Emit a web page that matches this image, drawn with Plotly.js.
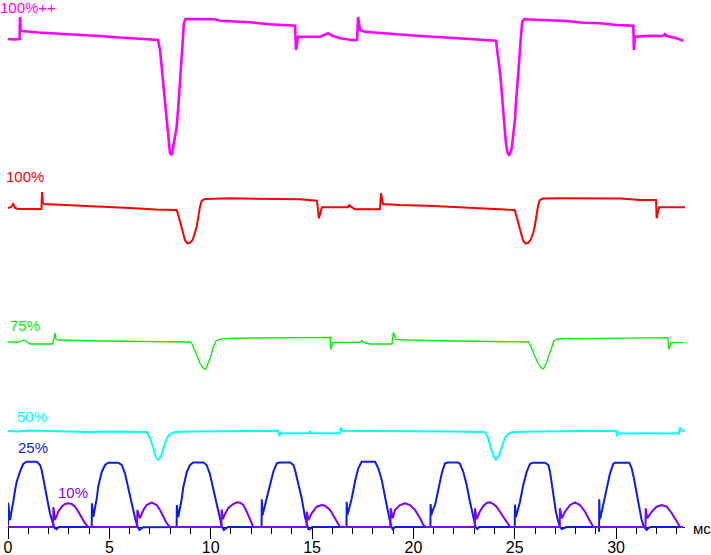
<!DOCTYPE html>
<html>
<head>
<meta charset="utf-8">
<script src="https://cdn.plot.ly/plotly-3.0.1.min.js"></script>
<style>html,body{margin:0;padding:0;background:#fff;}#chart{width:711px;height:555px;}</style>
</head>
<body>
<div id="chart"></div>
<script>
// time in ms, signal value in arbitrary units (each curve sits at its own level)
const seriesNames = ["100%++", "100%", "75%", "50%", "25%", "10%"];

const magentaT = [0,0.3,0.57,0.59,0.63,0.7,1.5,2.5,3.5,4.5,5.5,6.5,7.4,7.50,7.58,7.66,7.75,7.83,7.91,7.99,8.08,8.15,8.24,8.32,8.40,8.49,8.57,8.62,8.68,8.75,10.21,10.46,11.94,12.93,14.16,14.21,14.31,15.39,15.79,16.03,16.38,16.97,17.22,17.27,17.37,17.61,18.52,20.16,21.81,23.43,24.08,24.11,24.19,24.24,24.31,24.36,24.44,24.48,24.55,24.63,24.73,24.85,24.93,25.01,25.06,25.15,25.21,25.29,25.37,25.46,26.74,27.56,28.37,29.21,30.03,30.85,30.88,30.93,31.67,32.3,32.41,32.5,32.99,33.32];
const magentaV = [488,487.5,488,510,497,496,494.5,493.5,492,491,489.5,488.5,487,477,460,440,420,404,387,374,372,380,390,400,420,447,467,487,504,508,507.7,506.3,504.7,502.7,501.3,477,490.3,490.3,493.7,491,488.7,487,487,509.7,497,495.3,493.7,491.3,489.3,487,486.3,480.3,470.3,460.3,447,433.7,417,400.3,387,375.3,371.3,378.7,390.3,407,423.7,443.7,463.7,487,505.3,507.7,507,506,504.3,503.7,502,501.3,477,490.3,491.3,491,493,491,488.7,486.3];

const redT = [0,0.15,0.25,0.35,0.5,1.65,1.68,1.72,1.8,3,4.5,6,7.3,8.24,8.32,8.40,8.49,8.57,8.65,8.73,8.85,8.98,9.11,9.23,9.31,9.39,9.47,9.56,9.72,11,12.5,13.42,14.41,15.24,15.34,15.49,16.77,16.82,16.97,17.12,18.35,18.40,18.50,19.34,21,22.5,24,24.92,25.00,25.08,25.17,25.25,25.33,25.41,25.53,25.66,25.79,25.91,25.99,26.07,26.15,26.24,26.40,27.23,30.2,31.18,31.97,32.0,32.12,33.40];
const redV = [319,320,323,319,318,318,335,324,323,322,320.5,319,317.5,317,317,312,305.3,298.7,292,287,283.7,284.3,287,293.7,300.3,310.3,320.3,326.3,328,328.7,328.5,327.7,327.7,326.3,308.7,319.7,319.7,321.7,319.5,317.7,317.7,333.7,323,322,321,319.5,318,317,317,311,304,298,291,286.5,283.5,284,287.5,294,301,311,321,327,328.5,328.7,328.5,327,327,308.7,319.7,319.7];

const greenT = [0,0.5,0.8,0.95,1.1,2.2,2.32,2.36,2.5,4.5,7,9.0,9.06,9.14,9.31,9.47,9.64,9.75,9.88,10.0,10.13,10.26,10.46,10.79,12,14,15.9,15.92,16.03,17.37,17.45,17.61,17.86,18.94,19.01,19.14,19.83,22,24,25.7,25.73,25.81,25.98,26.14,26.31,26.42,26.55,26.67,26.80,26.93,27.13,27.46,28,30,32.55,32.61,32.71,33.3];
const greenV = [185,185,187,185,183,183,194,188,187,186,185.5,185,183.7,180.3,172,163.7,158.7,157.7,163.7,170.3,180.3,186,187.7,188.7,189,189.5,189.7,177.7,184.7,184.7,186.3,184,183,183,194.7,187.7,187,186,185.5,185,183.5,180,172.5,164,159,158,163.5,170.5,180,186,188,188.5,188.3,188.7,189.3,177.7,184.3,184.7];

const cyanT = [0,0.5,1.0,2,3,4,5,6,6.86,7.01,7.15,7.30,7.40,7.55,7.70,7.84,7.99,8.24,9,11,13.32,13.38,13.45,14.85,14.9,14.95,16.38,16.43,16.48,18,20,22,23.53,23.68,23.82,23.97,24.07,24.22,24.37,24.51,24.66,24.91,26,28,30.0,30.04,30.1,31.5,33.1,33.15,33.2,33.4];
const cyanV = [96,95.5,96.5,96,95.5,95,95.5,95,95,89,79,70,67,71,81,89,93,95,95.5,96,96.3,91,93.7,93.7,96,93.7,93.7,99.7,96.3,96,96,95.5,95,89.5,79,70.5,67.5,71,80.5,89,93,95,95.5,96,96.3,91,93.5,93.7,93.5,99.7,96.5,96.5];

const blueT = [0,0.01,0.10,0.18,0.26,0.35,0.43,0.59,0.75,0.92,1.42,1.58,1.66,1.74,1.83,1.91,1.99,2.07,2.16,2.24,2.32,2.40,2.48,2.6,
  4.13,4.14,4.21,4.29,4.38,4.45,4.54,4.63,4.79,4.95,5.44,5.61,5.77,5.93,6.10,6.27,6.38,6.48,6.60,6.67,
  8.32,8.33,8.40,8.48,8.57,8.65,8.73,8.82,8.98,9.14,9.64,9.80,9.96,10.12,10.29,10.45,10.55,10.65,10.76,10.85,
  12.51,12.52,12.56,12.60,12.76,12.93,13.09,13.26,13.4,13.93,14.08,14.16,14.32,14.49,14.65,14.74,14.82,14.90,15.0,
  16.70,16.71,16.74,16.79,16.96,17.12,17.28,17.45,18.11,18.27,18.44,18.60,18.76,18.88,18.98,19.09,
  20.84,20.85,20.89,20.93,21.07,21.23,21.40,21.56,21.7,22.2,22.30,22.46,22.63,22.79,22.96,23.07,23.15,23.25,
  25.00,25.01,25.06,25.13,25.26,25.42,25.59,25.75,25.9,26.5,26.66,26.74,26.82,26.94,27.03,27.15,27.23,27.32,27.43,27.55,
  29.15,29.16,29.17,29.20,29.24,29.37,29.54,29.70,29.86,29.95,30.65,30.77,30.88,31.02,31.15,31.26,31.38,31.51,31.59,31.7,33.3];
const blueV = [0,24.3,7,15.3,25.3,37,45.3,55.3,63,65.3,65.3,62,57,48.7,40.3,30.3,22,13.7,7,2,-1.3,-2.3,-0.3,0,
  0,23.7,10.3,18.7,28.7,40.3,48.7,55.3,62,64.3,64.3,62,53.7,38.7,23.7,8.7,1,-3,-1.3,-0.3,
  0,22,10,18,28,40,48,55,62,64.5,64.5,62,53,38,23,8,0.5,-3,-1,0,
  0,27.7,12,15.3,27,43.7,55.3,63.7,64.5,64.5,62,57,43.7,28.7,10.3,2,-2.3,-2.3,0,
  0,25.3,12,15.3,28.7,45.3,58.7,65.3,65.3,58.7,47,30.3,12,2,-2.3,0,
  0,23,12,15.3,22,37,53.7,63.7,64.5,64.5,63,55.3,42,25.3,8.7,0,-2,0,
  0,22.3,10,15.3,25.3,42,55.3,63,64.3,64.3,62,55.3,43.7,28.7,15.3,5.3,0,-2,-1,0,
  0,-4.7,27.7,8,10.3,22,37,53.7,63,64.3,64.3,58.7,48.7,33.7,18.7,7,0,-3,-1,0,0];

const purpleT = [0,2.23,2.24,2.32,2.48,2.65,2.81,2.97,3.14,3.31,3.47,3.64,3.80,3.96,
  6.37,6.38,6.51,6.68,6.84,7.09,7.34,7.50,7.66,7.83,7.99,
  10.53,10.54,10.60,10.70,10.87,11.11,11.30,11.45,11.61,11.78,11.94,12.10,
  14.73,14.74,14.82,14.98,15.23,15.48,15.64,15.89,16.13,16.30,16.38,
  18.87,18.88,18.98,19.09,19.34,19.59,19.83,20.08,20.33,20.49,20.61,
  23.03,23.04,23.12,23.29,23.45,23.62,23.78,23.95,24.11,24.27,24.52,24.77,
  27.22,27.23,27.32,27.48,27.73,27.97,28.22,28.47,28.68,28.88,
  31.45,31.46,31.54,31.76,32.0,32.25,32.50,32.74,32.99,33.15,33.3];
const purpleV = [0,0,20,7,15.3,20.3,23,23.7,23,20.3,15.3,9.7,3.7,0,
  0,17,8.7,17,22,24.3,22,17,10.3,3.7,0,
  0,17.5,8,12.7,19,23,24.7,24.3,22,15.3,7,0,
  0,15.3,7,13.7,20.3,22,21.3,17,8.7,2,0,
  0,18.7,8.7,17,22,23.7,22,17,8.7,2,0,
  0,18.7,8,16,21,24,24.7,23,20,15.3,7,0,
  0,18.7,8.7,15.3,22,24.7,22,15.3,7,0,
  0,18.7,8.7,15.3,20.3,22,20.3,14,5.7,0,0];

const xTickStep = 5;
const xUnit = "мс";

// ---- styling (kept apart from data) ----
const seriesData = [[magentaT, magentaV], [redT, redV], [greenT, greenV], [cyanT, cyanV], [blueT, blueV], [purpleT, purpleV]];
const colors = ["#ff00ff", "#ff0000", "#00f000", "#00ffff", "#0a1ee8", "#8000ff"];
const widths = [2.6, 2, 1.3, 2, 2, 2];
// label placement: pixel shift from the plot's left edge, y in signal units
const labelShift = [-8, -2, 2, 9, 10, 50];
const labelY = [520, 351, 202, 111, 79.5, 35];

const YMIN = -6, YMAX = 527;
const traces = seriesData.map((s, i) => ({
  type: "scatter", mode: "lines", x: s[0], y: s[1], name: seriesNames[i],
  line: {color: colors[i], width: widths[i]}, hoverinfo: "skip"
}));

const font = "Liberation Sans, Arial, sans-serif";
const annotations = seriesNames.map((n, i) => ({
  text: n, xref: "paper", x: 0, xshift: labelShift[i], y: labelY[i], yref: "y",
  xanchor: "left", yanchor: "middle", showarrow: false, borderpad: 0, borderwidth: 0,
  font: {family: font, size: 15, color: colors[i]}
}));
annotations.push({
  text: xUnit, xref: "paper", x: 1, xshift: 7, yref: "y", y: 0, yshift: -1,
  xanchor: "left", yanchor: "middle", showarrow: false, borderpad: 0,
  font: {family: font, size: 15, color: "#000"}
});

const layout = {
  width: 711, height: 555,
  margin: {l: 8, r: 26, t: 0, b: 22, pad: 0},
  paper_bgcolor: "#fff", plot_bgcolor: "#fff",
  showlegend: false,
  xaxis: {
    range: [0, 33.4], anchor: "free", position: (0 - YMIN) / (YMAX - YMIN),
    showline: true, linecolor: "#000", linewidth: 1,
    ticks: "outside", ticklen: 11, tickwidth: 1, tickcolor: "#000",
    tick0: 0, dtick: xTickStep, showgrid: false, zeroline: false,
    tickfont: {family: font, size: 16, color: "#000"},
    ticklabelstandoff: -5,
    layer: "below traces",
    minor: {dtick: 1, tick0: 0, ticks: "outside", ticklen: 6, tickwidth: 1, tickcolor: "#000", showgrid: false}
  },
  yaxis: {range: [YMIN, YMAX], visible: false, showgrid: false, zeroline: false},
  annotations: annotations
};

Plotly.newPlot("chart", traces, layout, {displayModeBar: false, staticPlot: true});
</script>
</body>
</html>
